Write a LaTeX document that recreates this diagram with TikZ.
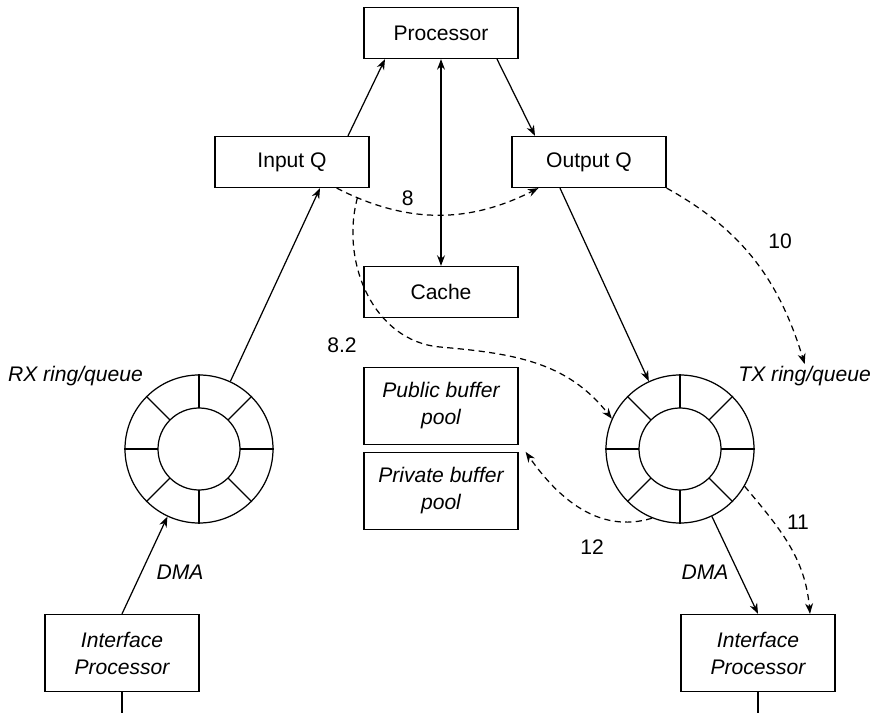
\documentclass[tikz,border=0pt]{standalone}
\usepackage{fontspec}
\setmainfont{Liberation Sans}
\usetikzlibrary{arrows.meta,positioning,calc}

\tikzset{
  >={Stealth[length=6pt,width=4.5pt]},
  box/.style={draw, line width=0.7pt, minimum width=3.08cm, minimum height=1.02cm, inner sep=0pt, align=center},
  tallbox/.style={box, minimum height=1.54cm, font=\fontsize{12}{15.4}\selectfont\itshape},
  ring/.style={draw, circle, line width=0.7pt, minimum size=2.96cm, inner sep=0pt},
  link/.style={->, line width=0.7pt},
  dlink/.style={link, dash pattern=on 3.5pt off 2.5pt},
  itlbl/.style={font=\fontsize{12}{15.4}\selectfont\itshape}
}

\begin{document}
\begin{tikzpicture}[font=\fontsize{12}{15.4}\selectfont]
        \useasboundingbox (0,0) rectangle (17.5,14.26);

        % Top boxes
        \node[box] (proc) at (8.82,13.60) {Processor};
        \node[box] (inq) at (5.84,11.02) {Input Q};
        \node[box] (outq) at (11.78,11.02) {Output Q};

        % Middle boxes
        \node[box] (cache) at (8.82,8.42) {Cache};
        \node[tallbox] (pub) at (8.82,6.14) {Public buffer\\pool};
        \node[tallbox] (priv) at (8.82,4.44) {Private buffer\\pool};

        % Rings with their slots
        \node[ring] (lring) at (3.98,5.28) {};
        \node[ring] (rring) at (13.60,5.28) {};
        \foreach \r in {lring,rring} {
            \draw[line width=0.7pt] (\r.center) circle (0.82);
            \foreach \a in {0,45,...,315}
                \draw[line width=0.7pt] ($(\r.center)+(\a:0.82)$) -- (\r.\a);
        }
        \node[itlbl, anchor=east, inner sep=1pt] (rxlbl) at (2.90,6.74) {RX ring/queue};
        \node[itlbl, anchor=east, inner sep=1pt] (txlbl) at (17.46,6.74) {TX ring/queue};

        % Interface processors
        \node[tallbox] (lip) at (2.44,1.20) {Interface\\Processor};
        \node[tallbox] (rip) at (15.16,1.20) {Interface\\Processor};
        \coordinate (lipout) at (2.44,0);
        \coordinate (ripout) at (15.16,0);

        % Solid arcs
        \draw[link] (lip.north) -- (lring);
        \draw[link] (lring) -- ($(inq.south)+(0.56,0)$);
        \draw[link] ($(inq.north)+(1.12,0)$) -- ($(proc.south)+(-1.12,0)$);
        \draw[link] ($(proc.south)+(1.12,0)$) -- ($(outq.north)+(-1.08,0)$);
        \draw[link,<->] (proc.south) -- (cache.north);
        \draw[link] ($(outq.south)+(-0.58,0)$) -- (rring);
        \draw[link] (rring) -- (rip.north);
        \draw[line width=0.7pt] (lip.south) -- (lipout);
        \draw[line width=0.7pt] (rip.south) -- (ripout);

        % DMA labels
        \node[itlbl] (ldma) at (3.60,2.82) {DMA};
        \node[itlbl] (rdma) at (14.10,2.82) {DMA};

        % Dashed arcs
        \draw[dlink] ($(inq.south east)+(-0.66,0)$) to[bend right=27]
            coordinate[pos=0.1] (b8) node[pos=0.35,above] {8} ($(outq.south west)+(0.54,0)$);
        \draw[dlink] (b8) to[out=255,in=175] (8.80,7.32) to[out=-5,in=128] (rring.156);
        \node (l82) at (6.84,7.36) {8.2};

        \draw[dlink] (outq.south east) to[out=-29,in=107] (txlbl.north);
        \node (l10) at (15.60,9.44) {10};

        \draw[dlink] (rring.-30) to[out=-50,in=95] ($(rip.north)+(1.04,0)$);
        \node (l11) at (15.96,3.82) {11};

        \draw[dlink] (rring.248) to[out=197,in=-55] ($(priv.north east)+(0.14,0)$);
        \node (l12) at (11.84,3.32) {12};
\end{tikzpicture}
\end{document}
